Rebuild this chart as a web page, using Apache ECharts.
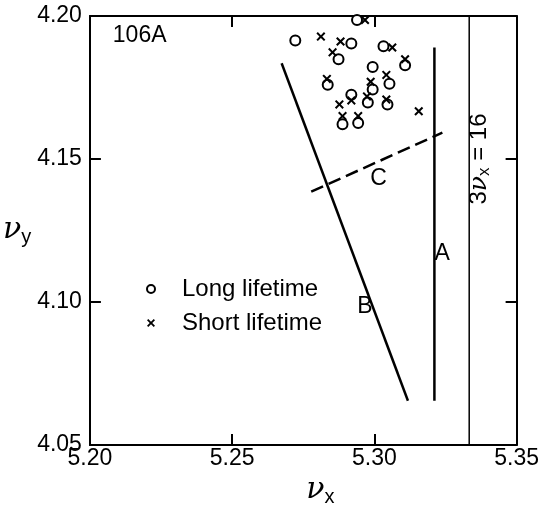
<!DOCTYPE html>
<html>
<head>
<meta charset="utf-8">
<script src="https://cdn.jsdelivr.net/npm/echarts@6/dist/echarts.min.js"></script>
<style>
body { margin: 0; background: #fff; }
#main { width: 542px; height: 512px; }
</style>
</head>
<body>
<div id="main"></div>
<script>
// tune values
var longX  = [5.2722, 5.2919, 5.2939, 5.3032, 5.2874, 5.3108, 5.2994, 5.2836, 5.3053, 5.2994, 5.2919, 5.2977, 5.3046, 5.2888, 5.2943];
var longY  = [4.1914, 4.1904, 4.1986, 4.1894, 4.1849, 4.1828, 4.1822, 4.1760, 4.1763, 4.1743, 4.1725, 4.1698, 4.1691, 4.1622, 4.1626];
var shortX = [5.2812, 5.2881, 5.2967, 5.3063, 5.2853, 5.3108, 5.2833, 5.3042, 5.2987, 5.2919, 5.2877, 5.2974, 5.3042, 5.3156, 5.2888, 5.2943];
var shortY = [4.1928, 4.1911, 4.1986, 4.1890, 4.1873, 4.1849, 4.1780, 4.1794, 4.1770, 4.1705, 4.1691, 4.1719, 4.1708, 4.1667, 4.1650, 4.1650];

// lines (end points)
var lineA = [[5.3211, 4.1890], [5.3211, 4.0655]];
var lineB = [[5.2674, 4.1835], [5.3118, 4.0655]];
var lineC = [[5.2778, 4.1386], [5.3239, 4.1592]];
var resonance = [[16 / 3, 4.05], [16 / 3, 4.20]];

var xTicks = [5.20, 5.25, 5.30, 5.35];
var yTicks = [4.05, 4.10, 4.15, 4.20];

// text notes in data coords
var notes = [
	{name: '106A', value: [5.2175, 4.1931]},
	{name: 'C', value: [5.3015, 4.1430]},
	{name: 'A', value: [5.3238, 4.1169]},
	{name: 'B', value: [5.2967, 4.0984]}
];
var resNote = [5.3369, 4.1500];

var FONT = 'Liberation Sans';
var crossPath = 'path://M0,1.6 L1.6,0 L5,3.4 L8.4,0 L10,1.6 L6.6,5 L10,8.4 L8.4,10 L5,6.6 L1.6,10 L0,8.4 L3.4,5 Z';

function zip(xs, ys) {
	var out = [];
	for (var i = 0; i < xs.length; i++) {
		out.push([xs[i], ys[i]]);
	}
	return out;
}

function lineSeries(pts, width, dashed) {
	return {
		type: 'line',
		data: pts,
		symbol: 'none',
		silent: true,
		lineStyle: {color: '#000', width: width, type: dashed ? [13, 6] : 'solid'}
	};
}

function boxAxis(min, max, interval, pos, showLabel, ticks) {
	return {
		type: 'value',
		position: pos,
		min: min,
		max: max,
		interval: interval,
		splitLine: {show: false},
		axisLine: {show: true, onZero: false, lineStyle: {color: '#000', width: 2}},
		axisTick: {show: true, inside: true, length: 11, lineStyle: {color: '#000', width: 2}},
		axisLabel: {
			show: showLabel,
			color: '#000',
			fontFamily: FONT,
			fontSize: 23,
			formatter: function (v) { return v.toFixed(2); },
			customValues: ticks
		}
	};
}

var myChart = echarts.init(document.getElementById('main'));

var xMain = boxAxis(xTicks[0], xTicks[3], 0.05, 'bottom', true, xTicks);
xMain.axisLabel.margin = 2;
xMain.name = '{n|ν}{s|x}';
xMain.nameLocation = 'middle';
xMain.nameGap = 24;
xMain.nameTextStyle = {
	padding: [0, 0, 0, 34],
	rich: {
		n: {fontFamily: 'DejaVu Serif', fontStyle: 'italic', fontSize: 30, color: '#000'},
		s: {fontFamily: FONT, fontSize: 20, color: '#000', padding: [14, 0, 0, 0]}
	}
};

var yMain = boxAxis(yTicks[0], yTicks[3], 0.05, 'left', true, yTicks);
yMain.axisLabel.margin = 8;
yMain.name = '{n|ν}{s|y}';
yMain.nameLocation = 'middle';
yMain.nameRotate = 0;
yMain.nameGap = 38;
yMain.nameTextStyle = {
	rich: {
		n: {fontFamily: 'DejaVu Serif', fontStyle: 'italic', fontSize: 30, color: '#000'},
		s: {fontFamily: FONT, fontSize: 20, color: '#000', padding: [14, 0, 0, 0]}
	}
};

var option = {
	animation: false,
	backgroundColor: '#fff',
	grid: {left: 83, right: 23, top: 16, bottom: 59},
	xAxis: [xMain, boxAxis(xTicks[0], xTicks[3], 0.05, 'top', false, xTicks)],
	yAxis: [yMain, boxAxis(yTicks[0], yTicks[3], 0.05, 'right', false, yTicks)],
	legend: {
		left: 141,
		top: 272,
		orient: 'vertical',
		itemWidth: 8,
		itemHeight: 8,
		itemGap: 10,
		selectedMode: false,
		textStyle: {fontFamily: FONT, fontSize: 24, color: '#000', lineHeight: 24, padding: [0, 0, 0, 22]},
		data: ['Long lifetime', 'Short lifetime']
	},
	series: [
		{
			name: 'Long lifetime',
			type: 'scatter',
			symbol: 'circle',
			symbolSize: 10,
			itemStyle: {color: '#fff', borderColor: '#000', borderWidth: 2, opacity: 1},
			data: zip(longX, longY),
			z: 3
		},
		{
			name: 'Short lifetime',
			type: 'scatter',
			symbol: crossPath,
			symbolSize: 9,
			itemStyle: {color: '#000', opacity: 1},
			data: zip(shortX, shortY),
			z: 4
		},
		lineSeries(lineA, 2.5, false),
		lineSeries(lineB, 2.5, false),
		lineSeries(lineC, 2.5, true),
		lineSeries(resonance, 1.5, false),
		{
			type: 'scatter',
			symbolSize: 0,
			silent: true,
			itemStyle: {opacity: 1},
			data: notes,
			label: {
				show: true,
				position: 'inside',
				formatter: '{b}',
				fontFamily: FONT,
				fontSize: 23,
				color: '#000'
			}
		},
		{
			type: 'scatter',
			symbolSize: 0,
			silent: true,
			itemStyle: {opacity: 1},
			data: [resNote],
			label: {
				show: true,
				position: 'inside',
				rotate: 90,
				formatter: '{a|3}{n|ν}{s|x}{a| = 16}',
				rich: {
					a: {fontFamily: FONT, fontSize: 24, color: '#000'},
					n: {fontFamily: 'DejaVu Serif', fontStyle: 'italic', fontSize: 25, color: '#000'},
					s: {fontFamily: FONT, fontSize: 17, color: '#000', padding: [10, 0, 0, 0]}
				}
			}
		}
	]
};

myChart.setOption(option);
</script>
</body>
</html>
